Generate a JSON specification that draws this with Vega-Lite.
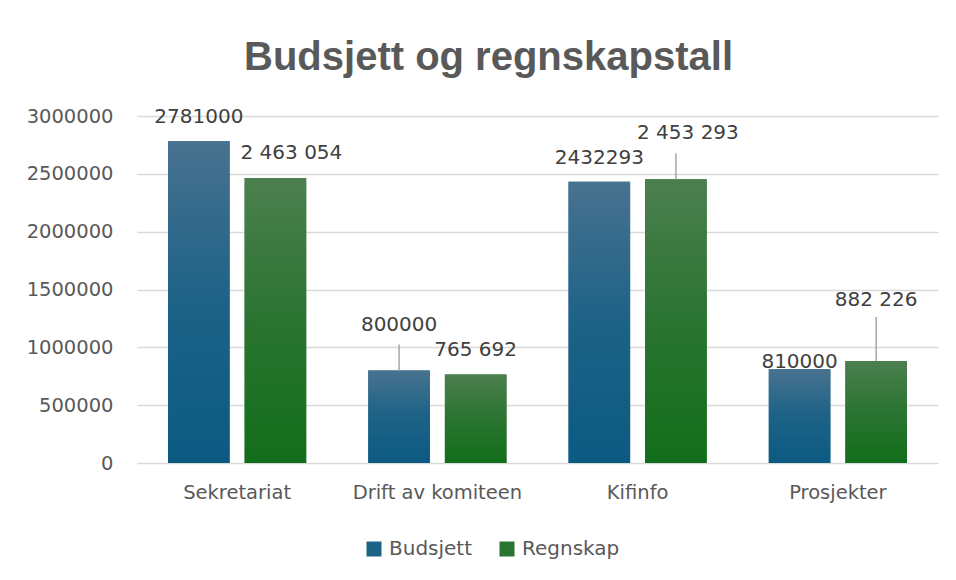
{
  "$schema": "https://vega.github.io/schema/vega-lite/v6.json",
  "width": 801,
  "height": 347,
  "autosize": {"type": "none"},
  "padding": {"left": 137, "top": 116, "right": 18, "bottom": 117},
  "background": "white",
  "title": {
    "text": "Budsjett og regnskapstall",
    "font": "Liberation Sans",
    "fontSize": 40,
    "fontWeight": "bold",
    "color": "#595959",
    "anchor": "middle",
    "dx": -49,
    "offset": 28
  },
  "config": {
    "view": {"stroke": null},
    "font": "DejaVu Sans"
  },
  "data": {
    "values": [
      {"kategori": "Sekretariat", "serie": "Budsjett", "verdi": 2781000, "etikett": "2781000"},
      {"kategori": "Sekretariat", "serie": "Regnskap", "verdi": 2463054, "etikett": "2 463 054"},
      {"kategori": "Drift av komiteen", "serie": "Budsjett", "verdi": 800000, "etikett": "800000"},
      {"kategori": "Drift av komiteen", "serie": "Regnskap", "verdi": 765692, "etikett": "765 692"},
      {"kategori": "Kifinfo", "serie": "Budsjett", "verdi": 2432293, "etikett": "2432293"},
      {"kategori": "Kifinfo", "serie": "Regnskap", "verdi": 2453293, "etikett": "2 453 293"},
      {"kategori": "Prosjekter", "serie": "Budsjett", "verdi": 810000, "etikett": "810000"},
      {"kategori": "Prosjekter", "serie": "Regnskap", "verdi": 882226, "etikett": "882 226"}
    ]
  },
  "encoding": {
    "x": {
      "field": "kategori",
      "type": "nominal",
      "sort": ["Sekretariat", "Drift av komiteen", "Kifinfo", "Prosjekter"],
      "scale": {"paddingInner": 0.31, "paddingOuter": 0.155},
      "axis": {
        "title": null,
        "labelAngle": 0,
        "labelFont": "DejaVu Sans",
        "labelFontSize": 19.5,
        "labelColor": "#595959",
        "labelPadding": 20,
        "ticks": false,
        "tickSize": 0,
        "domain": false
      }
    },
    "xOffset": {
      "field": "serie",
      "type": "nominal",
      "sort": ["Budsjett", "Regnskap"],
      "scale": {"paddingInner": 0.196, "paddingOuter": 0}
    },
    "y": {
      "field": "verdi",
      "type": "quantitative",
      "scale": {"domain": [0, 3000000], "nice": false},
      "axis": {
        "title": null,
        "values": [0, 500000, 1000000, 1500000, 2000000, 2500000, 3000000],
        "format": "d",
        "labelFont": "DejaVu Sans",
        "labelFontSize": 19.5,
        "labelColor": "#595959",
        "labelPadding": 24,
        "ticks": false,
        "tickSize": 0,
        "domain": false,
        "grid": true,
        "gridColor": "#d9d9d9",
        "gridWidth": 1.5
      }
    }
  },
  "layer": [
    {
      "mark": {"type": "bar"},
      "encoding": {
        "color": {
          "field": "serie",
          "type": "nominal",
          "sort": ["Budsjett", "Regnskap"],
          "scale": {"domain": ["Budsjett", "Regnskap"], "range": ["#1d6287", "#2a7431"]},
          "legend": {
            "title": null,
            "orient": "none",
            "direction": "horizontal",
            "legendX": 227,
            "legendY": 423,
            "symbolType": "square",
            "symbolSize": 225,
            "symbolStrokeWidth": 0,
            "labelFont": "DejaVu Sans",
            "labelFontSize": 20,
            "labelColor": "#595959",
            "labelOffset": 5,
            "columnPadding": 24
          }
        }
      }
    },
    {
      "mark": {"type": "bar", "color": {"gradient": "linear", "x1": 0, "y1": 0, "x2": 0, "y2": 1, "stops": [{"offset": 0, "color": "#48728f"}, {"offset": 0.5, "color": "#1d6287"}, {"offset": 1, "color": "#0b5a82"}]}},
      "transform": [{"filter": {"field": "serie", "equal": "Budsjett"}}]
    },
    {
      "mark": {"type": "bar", "color": {"gradient": "linear", "x1": 0, "y1": 0, "x2": 0, "y2": 1, "stops": [{"offset": 0, "color": "#4c7f4f"}, {"offset": 0.5, "color": "#2a7431"}, {"offset": 1, "color": "#126e1a"}]}},
      "transform": [{"filter": {"field": "serie", "equal": "Regnskap"}}]
    },
    {
      "mark": {"type": "rule", "color": "#a6a6a6", "strokeWidth": 1.5, "y2Offset": -26},
      "transform": [{"filter": {"field": "etikett", "oneOf": ["800000", "2 453 293"]}}],
      "encoding": {"y2": {"field": "verdi"}}
    },
    {
      "mark": {"type": "rule", "color": "#a6a6a6", "strokeWidth": 1.5, "y2Offset": -44},
      "transform": [{"filter": {"field": "etikett", "oneOf": ["882 226"]}}],
      "encoding": {"y2": {"field": "verdi"}}
    },
    {
      "mark": {"type": "text", "baseline": "middle", "dy": -24, "fontSize": 20, "color": "#404040", "font": "DejaVu Sans"},
      "transform": [{"filter": {"field": "etikett", "oneOf": ["2781000", "2432293", "765 692"]}}],
      "encoding": {"text": {"field": "etikett"}}
    },
    {
      "mark": {"type": "text", "baseline": "middle", "dy": -25, "dx": 16, "fontSize": 20, "color": "#404040", "font": "DejaVu Sans"},
      "transform": [{"filter": {"field": "etikett", "oneOf": ["2 463 054"]}}],
      "encoding": {"text": {"field": "etikett"}}
    },
    {
      "mark": {"type": "text", "baseline": "middle", "dy": -7, "fontSize": 20, "color": "#404040", "font": "DejaVu Sans"},
      "transform": [{"filter": {"field": "etikett", "oneOf": ["810000"]}}],
      "encoding": {"text": {"field": "etikett"}}
    },
    {
      "mark": {"type": "text", "baseline": "middle", "dy": -45, "fontSize": 20, "color": "#404040", "font": "DejaVu Sans"},
      "transform": [{"filter": {"field": "etikett", "oneOf": ["800000"]}}],
      "encoding": {"text": {"field": "etikett"}}
    },
    {
      "mark": {"type": "text", "baseline": "middle", "dy": -46, "dx": 12, "fontSize": 20, "color": "#404040", "font": "DejaVu Sans"},
      "transform": [{"filter": {"field": "etikett", "oneOf": ["2 453 293"]}}],
      "encoding": {"text": {"field": "etikett"}}
    },
    {
      "mark": {"type": "text", "baseline": "middle", "dy": -61, "fontSize": 20, "color": "#404040", "font": "DejaVu Sans"},
      "transform": [{"filter": {"field": "etikett", "oneOf": ["882 226"]}}],
      "encoding": {"text": {"field": "etikett"}}
    }
  ]
}
